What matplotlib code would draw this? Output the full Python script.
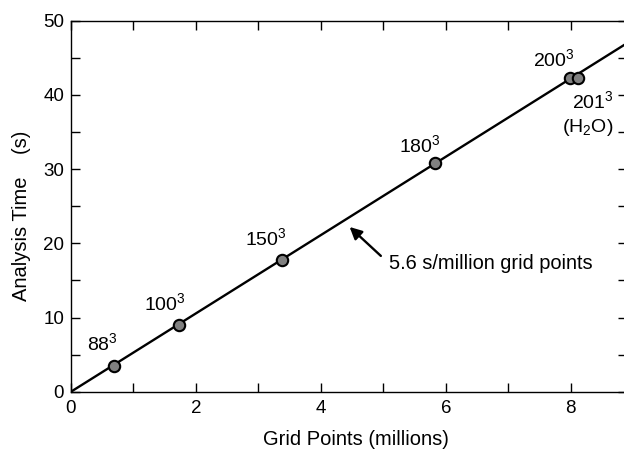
import matplotlib
matplotlib.use("Agg")
import matplotlib.pyplot as plt
from matplotlib.ticker import MultipleLocator

plt.rcParams['font.family'] = ['Liberation Sans', 'DejaVu Sans']
plt.rcParams['mathtext.fontset'] = 'custom'
plt.rcParams['mathtext.rm'] = 'Liberation Sans'

# data
grid_points = [0.683, 1.728, 3.376, 5.83, 7.995, 8.12]
analysis_time = [3.5, 9.0, 17.7, 30.8, 42.3, 42.3]
point_labels = [r'$\mathregular{88^3}$', r'$\mathregular{100^3}$', r'$\mathregular{150^3}$',
                r'$\mathregular{180^3}$', r'$\mathregular{200^3}$', r'$\mathregular{201^3}$']
label_x = [0.51, 1.50, 3.12, 5.58, 7.73, 8.35]
label_y = [5.6, 11.0, 19.8, 32.3, 43.9, 38.2]
fit_x = [0.0, 9.0]
fit_y = [0.0, 47.5]

fig = plt.figure(figsize=(6.24, 4.55), dpi=100)
ax = fig.add_axes([71/624, (455-391.7)/455, 556/624, 371/455])

ax.plot(fit_x, fit_y, color='black', lw=1.7, zorder=2, clip_on=True)
ax.plot(grid_points, analysis_time, 'o', ms=8.2, mfc='#808080', mec='black', mew=1.5, zorder=3)

fs = 14
for t, x, y in zip(point_labels, label_x, label_y):
    ax.text(x, y, t, ha='center', va='baseline', fontsize=fs)
ax.text(8.27, 35.0, r'$\mathregular{(H_2O)}$', ha='center', va='baseline', fontsize=fs)

ax.annotate('', xy=(4.46, 22.2), xytext=(4.96, 18.3),
            arrowprops=dict(arrowstyle='-|>', color='black', lw=1.7,
                            mutation_scale=18, shrinkA=0, shrinkB=0))
ax.text(5.09, 17.3, '5.6 s/million grid points', fontsize=14.4, va='center', ha='left')

ax.set_xlim(0, 8.9)
ax.set_ylim(0, 50)
ax.xaxis.set_major_locator(MultipleLocator(2))
ax.xaxis.set_minor_locator(MultipleLocator(1))
ax.yaxis.set_major_locator(MultipleLocator(10))
ax.yaxis.set_minor_locator(MultipleLocator(5))
ax.tick_params(which='both', direction='in', top=True, right=True, length=6.5, width=1.0,
               labelsize=13.5)
ax.tick_params(axis='x', pad=6)
ax.tick_params(axis='y', pad=5)
for s in ax.spines.values():
    s.set_linewidth(1.0)

ax.set_xlabel('Grid Points (millions)', fontsize=14.5)
ax.xaxis.set_label_coords((356-71)/556, (391.7-430)/371)
ax.set_ylabel('Analysis Time    (s)', fontsize=14.5)
ax.yaxis.set_label_coords((31-71)/556, (391.7-216)/371)

fig.savefig('out.png', dpi=100)
